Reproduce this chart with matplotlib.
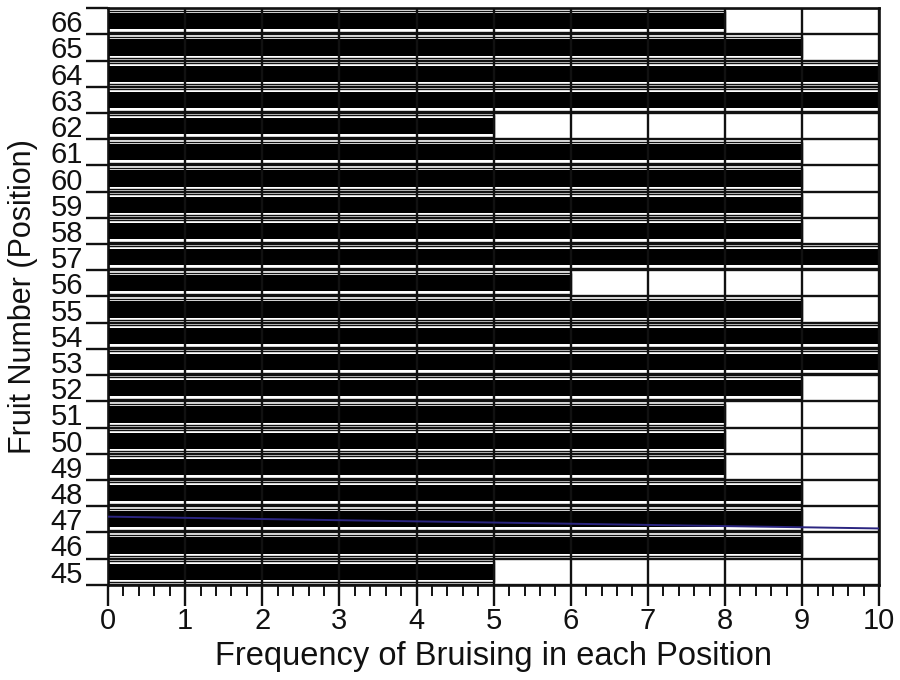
import numpy as np
import matplotlib
matplotlib.use('Agg')
import matplotlib.pyplot as plt

plt.rcParams['font.family'] = ['Liberation Sans', 'DejaVu Sans']

# 과일 번호(위치)별 멍 발생 빈도
fruit = [45, 46, 47, 48, 49, 50, 51, 52, 53, 54, 55,
         56, 57, 58, 59, 60, 61, 62, 63, 64, 65, 66]
freq = [5, 9, 9, 9, 8, 8, 8, 9, 10, 10, 9,
        6, 10, 9, 9, 9, 9, 5, 10, 10, 9, 8]

# 스캔 원본에 보이는 파란 선
scan_line_x = [0, 10]
scan_line_y = [47.1, 46.65]

ink = '#111111'

fig = plt.figure(figsize=(9, 6.8), dpi=100)
ax = fig.add_axes([0.12, 0.14, 0.857, 0.848])

# 막대 바깥 가는 선 + 검은 막대
ax.barh(fruit, freq, height=0.82, fill=False, edgecolor=ink, linewidth=1.0, zorder=2)
ax.barh(fruit, freq, height=0.62, color='black', linewidth=0, zorder=3)

# 격자
for yb in np.arange(44.5, 67, 1):
    ax.axhline(yb, color=ink, lw=1.7, zorder=4)
for xb in range(0, 11):
    ax.axvline(xb, color=ink, lw=1.7, zorder=4)

ax.plot(scan_line_x, scan_line_y, color='#2b2580', lw=1.4, zorder=5)

ax.set_xlim(0, 10)
ax.set_ylim(44.5, 66.5)

# x축 눈금
ax.set_xticks(range(0, 11))
ax.set_xticks(np.arange(0, 10.01, 0.2), minor=True)
ax.tick_params(axis='x', which='major', length=15, width=1.7, pad=1,
               labelsize=21, colors=ink, direction='out')
ax.tick_params(axis='x', which='minor', length=8, width=1.4, direction='out', colors=ink)

# y축 눈금: 경계에 눈금선, 가운데에 라벨
ax.set_yticks(np.arange(44.5, 67, 1))
ax.set_yticklabels([])
ax.set_yticks(fruit, minor=True)
ax.set_yticklabels([str(f) for f in fruit], minor=True)
ax.tick_params(axis='y', which='major', length=16, width=1.7, colors=ink)
ax.tick_params(axis='y', which='minor', length=0, pad=18, labelsize=21, colors=ink)

for s in ax.spines.values():
    s.set_linewidth(1.9)
    s.set_color(ink)

ax.set_xlabel('Frequency of Bruising in each Position', fontsize=23.5, color=ink, labelpad=4)
ax.set_ylabel('Fruit Number (Position)', fontsize=22, color=ink, labelpad=9)

fig.savefig('out.png', dpi=100)
